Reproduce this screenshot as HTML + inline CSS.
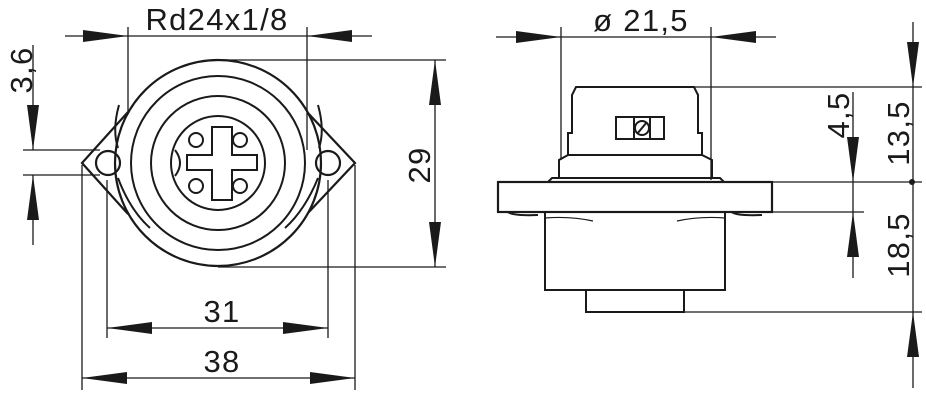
<!DOCTYPE html>
<html><head><meta charset="utf-8"><style>html,body{margin:0;padding:0;background:#fff}svg{display:block}text{font-family:"Liberation Sans",sans-serif;font-size:31px;letter-spacing:1.3px;fill:#1a1a1a}</style></head>
<body>
<svg width="926" height="401" viewBox="0 0 926 401" xmlns="http://www.w3.org/2000/svg">
<defs>
<marker id="a" viewBox="0 0 10 10" refX="10" refY="5" markerWidth="45" markerHeight="12" markerUnits="userSpaceOnUse" orient="auto" preserveAspectRatio="none"><path d="M0,0L10,5L0,10z" fill="#1a1a1a"/></marker>
</defs>
<g stroke="#1a1a1a" fill="none" stroke-width="1.3">
<!-- LEFT VIEW -->
<path d="M128,112 L82,163 L128,214 M307,112 L355,163 L307,214" stroke-width="2.2"/>
<circle cx="218" cy="163" r="103" stroke-width="2.2" fill="#fff"/>
<circle cx="218" cy="163" r="87" stroke-width="2"/>
<circle cx="218" cy="163" r="67" stroke-width="2"/>
<circle cx="218" cy="163" r="47" stroke-width="2"/>
<path d="M119,105 Q112,130 118,148 M118,178 Q130,210 150,228 M318,105 Q325,130 319,148 M318,178 Q305,210 285,228" stroke-width="2"/>
<circle cx="108" cy="163" r="12" stroke-width="2.2"/>
<circle cx="328" cy="163" r="12" stroke-width="2.2"/>
<path d="M212,127 H232 V155 H257 V170 H232 V200 H212 V170 H187 V155 H212 Z" stroke-width="2"/>
<circle cx="196" cy="140" r="7" stroke-width="2"/><circle cx="240" cy="140" r="7" stroke-width="2"/>
<circle cx="196" cy="186" r="7" stroke-width="2"/><circle cx="240" cy="186" r="7" stroke-width="2"/>
<path d="M175,150 Q185,163 175,176" stroke-width="2"/>
<!-- Rd dim -->
<line x1="65" y1="36" x2="128" y2="36" marker-end="url(#a)"/>
<line x1="372" y1="36" x2="307" y2="36" marker-end="url(#a)"/>
<line x1="128" y1="36" x2="307" y2="36"/>
<line x1="128" y1="27" x2="128" y2="112"/><line x1="307" y1="27" x2="307" y2="150"/>
<!-- 3,6 -->
<line x1="33" y1="45" x2="33" y2="150" marker-end="url(#a)"/>
<line x1="33" y1="245" x2="33" y2="175" marker-end="url(#a)"/>
<line x1="23" y1="150" x2="100" y2="150"/><line x1="23" y1="175" x2="100" y2="175"/>
<!-- 29 -->
<line x1="435" y1="163" x2="435" y2="60" marker-end="url(#a)"/>
<line x1="435" y1="163" x2="435" y2="267" marker-end="url(#a)"/>
<line x1="218" y1="60" x2="446" y2="60"/><line x1="218" y1="267" x2="446" y2="267"/>
<!-- 31 -->
<line x1="218" y1="328" x2="107" y2="328" marker-end="url(#a)"/>
<line x1="218" y1="328" x2="328" y2="328" marker-end="url(#a)"/>
<line x1="107" y1="180" x2="107" y2="338"/><line x1="328" y1="180" x2="328" y2="338"/>
<!-- 38 -->
<line x1="218" y1="378" x2="82" y2="378" marker-end="url(#a)"/>
<line x1="218" y1="378" x2="355" y2="378" marker-end="url(#a)"/>
<line x1="82" y1="165" x2="82" y2="390"/><line x1="355" y1="165" x2="355" y2="390"/>

<!-- RIGHT VIEW -->
<path d="M568,155 V133 H572 V95 L576,87 H694 L698,95 V133 H702 V155" stroke-width="2"/>
<path d="M559,178 V160 L568,155 H702 L712,160 V178" stroke-width="2"/>
<path d="M548,182 L552,178 H720 L724,182" stroke-width="2"/>
<rect x="498" y="182" width="274" height="30" stroke-width="2.2"/>
<rect x="545" y="212" width="180" height="78" stroke-width="2"/>
<rect x="586" y="290" width="98" height="22" stroke-width="2"/>
<path d="M508,212 Q512,216 538,215 M732,212 Q736,216 762,215" stroke-width="2"/>
<path d="M545,218 Q570,216 593,221 M677,221 Q700,216 725,218" stroke-width="1.2"/>
<rect x="616" y="117" width="48" height="22" stroke-width="2"/>
<line x1="634" y1="117" x2="634" y2="139" stroke-width="2"/><line x1="650" y1="117" x2="650" y2="139" stroke-width="2"/>
<circle cx="642" cy="128" r="7" stroke-width="2"/><line x1="637" y1="134" x2="647" y2="122" stroke-width="2"/>
<!-- ø dim -->
<line x1="496" y1="37" x2="561" y2="37" marker-end="url(#a)"/>
<line x1="776" y1="37" x2="711" y2="37" marker-end="url(#a)"/>
<line x1="561" y1="37" x2="711" y2="37"/>
<line x1="561" y1="27" x2="561" y2="160"/><line x1="711" y1="27" x2="711" y2="180"/>
<!-- right dims -->
<line x1="913" y1="22" x2="913" y2="87" marker-end="url(#a)"/>
<line x1="913" y1="87" x2="913" y2="312"/>
<line x1="913" y1="388" x2="913" y2="312" marker-end="url(#a)"/>
<line x1="690" y1="87" x2="922" y2="87"/><line x1="772" y1="182" x2="922" y2="182"/><line x1="684" y1="312" x2="922" y2="312"/>
<line x1="853" y1="92" x2="853" y2="182" marker-end="url(#a)"/>
<line x1="853" y1="278" x2="853" y2="212" marker-end="url(#a)"/>
<line x1="853" y1="182" x2="853" y2="212"/>
<line x1="772" y1="212" x2="864" y2="212"/>
</g>
<circle cx="912" cy="182" r="3" fill="#1a1a1a"/>
<text x="217" y="30" text-anchor="middle">Rd24x1/8</text>
<text x="641" y="31" text-anchor="middle">ø 21,5</text>
<text x="222" y="322" text-anchor="middle">31</text>
<text x="222" y="372" text-anchor="middle">38</text>
<text transform="translate(32,70) rotate(-90)" text-anchor="middle">3,6</text>
<text transform="translate(430,165) rotate(-90)" text-anchor="middle">29</text>
<text transform="translate(849,115) rotate(-90)" text-anchor="middle">4,5</text>
<text transform="translate(909,133) rotate(-90)" text-anchor="middle">13,5</text>
<text transform="translate(909,245) rotate(-90)" text-anchor="middle">18,5</text>
</svg>
</body></html>
